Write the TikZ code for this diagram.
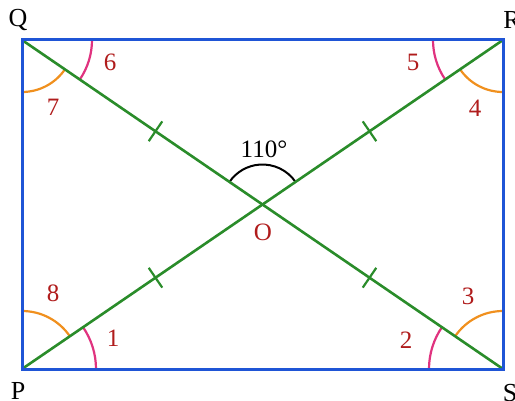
\documentclass[tikz,border=0pt]{standalone}
\usepackage{fontspec}
\setmainfont{Liberation Serif}
\usetikzlibrary{calc}
\definecolor{rectblue}{HTML}{1F55D6}
\definecolor{diaggreen}{HTML}{2A8C2A}
\definecolor{arcorange}{HTML}{F0901E}
\definecolor{arcpink}{HTML}{E0337F}
\definecolor{labred}{HTML}{B01C1C}
\tikzset{
  rectline/.style={draw=rectblue, line width=3pt},
  diagline/.style={draw=diaggreen, line width=2.6pt},
  tickline/.style={draw=diaggreen, line width=2.2pt},
  orangearc/.style={draw=arcorange, line width=2.2pt},
  pinkarc/.style={draw=arcpink, line width=2.2pt},
  anglearc/.style={draw=black, line width=2pt},
  numlab/.style={text=labred, font=\fontsize{25}{30}\selectfont, inner sep=0pt},
  vertlab/.style={text=black, font=\fontsize{26}{30}\selectfont, inner sep=0pt},
  deglab/.style={text=black, font=\fontsize{25}{30}\selectfont, inner sep=0pt}
}
\begin{document}
\begin{tikzpicture}[x=1pt, y=1pt]
\useasboundingbox (0,0) rectangle (515,400);
\coordinate (Q) at (22,360);
\coordinate (R) at (503,360);
\coordinate (P) at (22,31);
\coordinate (S) at (503,31);
\coordinate (O) at (262.5,195.5);
\pgfmathsetmacro{\a}{atan(329/481)}
% angle arcs
\draw[orangearc] ($(Q)+(-90:52)$) arc[start angle=-90, end angle=-\a, radius=52];
\draw[pinkarc] ($(Q)+(-\a:70)$) arc[start angle=-\a, end angle=0, radius=70];
\draw[pinkarc] ($(R)+(180:70)$) arc[start angle=180, end angle=180+\a, radius=70];
\draw[orangearc] ($(R)+(180+\a:52)$) arc[start angle=180+\a, end angle=270, radius=52];
\draw[pinkarc] ($(P)+(0:74)$) arc[start angle=0, end angle=\a, radius=74];
\draw[orangearc] ($(P)+(\a:58)$) arc[start angle=\a, end angle=90, radius=58];
\draw[orangearc] ($(S)+(90:58)$) arc[start angle=90, end angle=180-\a, radius=58];
\draw[pinkarc] ($(S)+(180-\a:74)$) arc[start angle=180-\a, end angle=180, radius=74];
\draw[anglearc] ($(O)+(\a:40)$) arc[start angle=\a, end angle=180-\a, radius=40];
% diagonals
\draw[diagline] (Q) -- (S);
\draw[diagline] (P) -- (R);
% ticks
\foreach \c/\n in {Q/tq, R/tr, P/tp, S/ts}{
  \coordinate (\n) at ($(\c)!0.555!(O)$);
  \draw[tickline] ($(\n)!12pt!90:(O)$) -- ($(\n)!12pt!-90:(O)$);
}
% rectangle
\draw[rectline] (P) -- (S) -- (R) -- (Q) -- cycle;
% labels
\node[vertlab] (lQ) at (18,380) {Q};
\node[vertlab] (lR) at (512,380) {R};
\node[vertlab] (lP) at (18,9) {P};
\node[vertlab] (lS) at (510,7) {S};
\node[numlab] (n6) at (110,338) {6};
\node[numlab] (n7) at (53,293) {7};
\node[numlab] (n5) at (413,338) {5};
\node[numlab] (n4) at (475,292) {4};
\node[numlab] (n8) at (53,107) {8};
\node[numlab] (n1) at (113,62) {1};
\node[numlab] (n2) at (406,60) {2};
\node[numlab] (n3) at (468,104) {3};
\node[numlab] (nO) at (263,168) {O};
\node[deglab] (deg) at (264,251) {110°};
\end{tikzpicture}
\end{document}
